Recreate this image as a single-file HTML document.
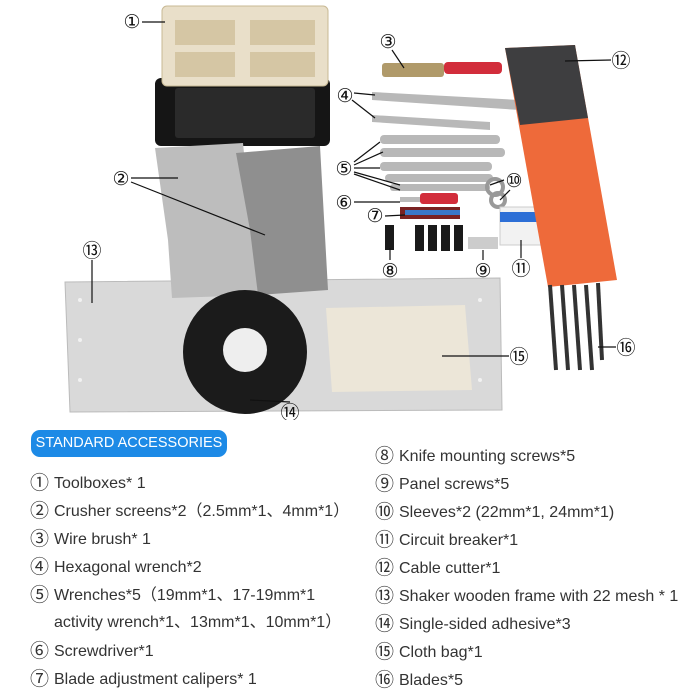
<!DOCTYPE html>
<html><head><meta charset="utf-8"><style>
body{margin:0;width:700px;height:700px;background:#fff;overflow:hidden;position:relative;font-family:"Liberation Sans","Noto Sans CJK SC",sans-serif}
svg{position:absolute;left:0;top:0}
.badge{position:absolute;left:31px;top:430px;width:196px;height:27px;background:#1d8ae6;border-radius:9px;color:#fff;font-size:14.5px;line-height:27px;text-align:center}
.l{position:absolute;font-size:16px;color:#333;white-space:nowrap}
.l b{font-weight:normal;font-size:19px;display:inline-block;width:24px;vertical-align:-1px}
</style></head><body>
<svg width="700" height="420" viewBox="0 0 700 420">
<polygon points="65,282 500,278 502,410 70,412" fill="#d9d9d9" stroke="#bbb"/>
<g fill="#f2f2f2"><circle cx="80" cy="300" r="2"/><circle cx="80" cy="340" r="2"/><circle cx="80" cy="380" r="2"/><circle cx="480" cy="300" r="2"/><circle cx="480" cy="380" r="2"/></g>
<rect x="155" y="78" width="175" height="68" rx="6" fill="#151515"/>
<rect x="175" y="88" width="140" height="50" rx="3" fill="#2a2a2a"/>
<rect x="162" y="6" width="166" height="80" rx="5" fill="#e9dfc9" stroke="#c8b994"/>
<g fill="#d5c6a4"><rect x="175" y="20" width="60" height="25"/><rect x="250" y="20" width="65" height="25"/><rect x="175" y="52" width="60" height="25"/><rect x="250" y="52" width="65" height="25"/></g>
<polygon points="155,148 243,143 258,295 172,298 168,240" fill="#bdbdbd"/>
<polygon points="236,153 320,146 328,290 258,295 250,230" fill="#8f8f8f"/>
<circle cx="245" cy="352" r="62" fill="#1b1b1b"/>
<circle cx="245" cy="350" r="22" fill="#eee"/>
<polygon points="326,308 465,305 472,390 332,392" fill="#ece6d8"/>
<rect x="382" y="63" width="62" height="14" rx="3" fill="#b09a6a"/>
<rect x="444" y="62" width="58" height="12" rx="4" fill="#d22d3b"/>
<g fill="#b8b8b8">
<polygon points="372,92 520,100 520,110 372,100"/>
<polygon points="372,115 490,122 490,130 372,122"/>
<rect x="380" y="135" width="120" height="9" rx="4"/>
<rect x="380" y="148" width="125" height="9" rx="4"/>
<rect x="380" y="162" width="112" height="9" rx="4"/>
<rect x="385" y="174" width="108" height="8" rx="4"/>
<rect x="390" y="184" width="100" height="7" rx="3"/>
</g>
<rect x="400" y="197" width="40" height="5" fill="#bbb"/><rect x="420" y="193" width="38" height="11" rx="3" fill="#d22d3b"/>
<rect x="400" y="207" width="60" height="12" fill="#7a2222"/><rect x="405" y="210" width="55" height="5" fill="#3a78c8"/>
<circle cx="495" cy="187" r="8" fill="none" stroke="#999" stroke-width="4"/>
<circle cx="498" cy="200" r="7" fill="none" stroke="#999" stroke-width="4"/>
<rect x="500" y="207" width="45" height="38" fill="#f2f2f2" stroke="#ccc"/><rect x="500" y="212" width="45" height="10" fill="#2d6fd6"/>
<g fill="#1a1a1a"><rect x="385" y="225" width="9" height="25"/><rect x="415" y="225" width="9" height="26"/><rect x="428" y="225" width="9" height="26"/><rect x="441" y="225" width="9" height="26"/><rect x="454" y="225" width="9" height="26"/></g>
<rect x="468" y="237" width="30" height="12" fill="#ccc"/>
<polygon points="505,48 575,45 617,280 548,287" fill="#ee6a3a"/>
<polygon points="505,48 575,45 588,118 520,125" fill="#3e3e40"/>
<g stroke="#333" stroke-width="4"><line x1="550" y1="285" x2="556" y2="370"/><line x1="562" y1="285" x2="568" y2="370"/><line x1="574" y1="285" x2="580" y2="370"/><line x1="586" y1="285" x2="592" y2="370"/><line x1="598" y1="283" x2="602" y2="360"/></g>
<g stroke="#111" stroke-width="1.2" fill="none">
<line x1="142" y1="22" x2="165" y2="22"/>
<line x1="131" y1="178" x2="178" y2="178"/><line x1="131" y1="182" x2="265" y2="235"/>
<line x1="392" y1="50" x2="404" y2="68"/>
<line x1="354" y1="93" x2="375" y2="95"/><line x1="352" y1="100" x2="375" y2="118"/>
<line x1="354" y1="162" x2="380" y2="142"/><line x1="354" y1="165" x2="383" y2="152"/><line x1="354" y1="168" x2="380" y2="168"/><line x1="354" y1="172" x2="400" y2="185"/><line x1="354" y1="174" x2="400" y2="190"/>
<line x1="354" y1="202" x2="400" y2="202"/><line x1="385" y1="216" x2="405" y2="215"/>
<line x1="390" y1="248" x2="390" y2="260"/><line x1="483" y1="250" x2="483" y2="260"/>
<line x1="504" y1="180" x2="490" y2="185"/><line x1="510" y1="190" x2="500" y2="200"/>
<line x1="521" y1="240" x2="521" y2="258"/>
<line x1="611" y1="60" x2="565" y2="61"/>
<line x1="92" y1="260" x2="92" y2="303"/>
<line x1="290" y1="402" x2="250" y2="400"/>
<line x1="509" y1="356" x2="442" y2="356"/>
<line x1="616" y1="347" x2="598" y2="347"/>
</g>
<g font-family="Liberation Sans,DejaVu Sans,sans-serif" font-size="19" fill="#111" text-anchor="middle">
<text x="132" y="28">①</text><text x="121" y="185">②</text><text x="388" y="48">③</text><text x="345" y="102">④</text><text x="344" y="175">⑤</text><text x="344" y="209">⑥</text><text x="375" y="222">⑦</text><text x="390" y="277">⑧</text><text x="483" y="277">⑨</text><text x="514" y="187">⑩</text><text x="521" y="275">⑪</text><text x="621" y="67">⑫</text><text x="92" y="257">⑬</text><text x="290" y="419">⑭</text><text x="519" y="363">⑮</text><text x="626" y="354">⑯</text>
</g>
</svg>
<div class="badge">STANDARD ACCESSORIES</div>
<div class="l" style="left:30px;top:468px"><b>①</b>Toolboxes* 1</div>
<div class="l" style="left:30px;top:496px"><b>②</b>Crusher screens*2（2.5mm*1、4mm*1）</div>
<div class="l" style="left:30px;top:524px"><b>③</b>Wire brush* 1</div>
<div class="l" style="left:30px;top:552px"><b>④</b>Hexagonal wrench*2</div>
<div class="l" style="left:30px;top:580px"><b>⑤</b>Wrenches*5（19mm*1、17-19mm*1</div>
<div class="l" style="left:54px;top:608px">activity wrench*1、13mm*1、10mm*1）</div>
<div class="l" style="left:30px;top:636px"><b>⑥</b>Screwdriver*1</div>
<div class="l" style="left:30px;top:664px"><b>⑦</b>Blade adjustment calipers* 1</div>
<div class="l" style="left:375px;top:441px"><b>⑧</b>Knife mounting screws*5</div>
<div class="l" style="left:375px;top:469px"><b>⑨</b>Panel screws*5</div>
<div class="l" style="left:375px;top:497px"><b>⑩</b>Sleeves*2 (22mm*1, 24mm*1)</div>
<div class="l" style="left:375px;top:525px"><b>⑪</b>Circuit breaker*1</div>
<div class="l" style="left:375px;top:553px"><b>⑫</b>Cable cutter*1</div>
<div class="l" style="left:375px;top:581px"><b>⑬</b>Shaker wooden frame with 22 mesh * 1</div>
<div class="l" style="left:375px;top:609px"><b>⑭</b>Single-sided adhesive*3</div>
<div class="l" style="left:375px;top:637px"><b>⑮</b>Cloth bag*1</div>
<div class="l" style="left:375px;top:665px"><b>⑯</b>Blades*5</div>
</body></html>
